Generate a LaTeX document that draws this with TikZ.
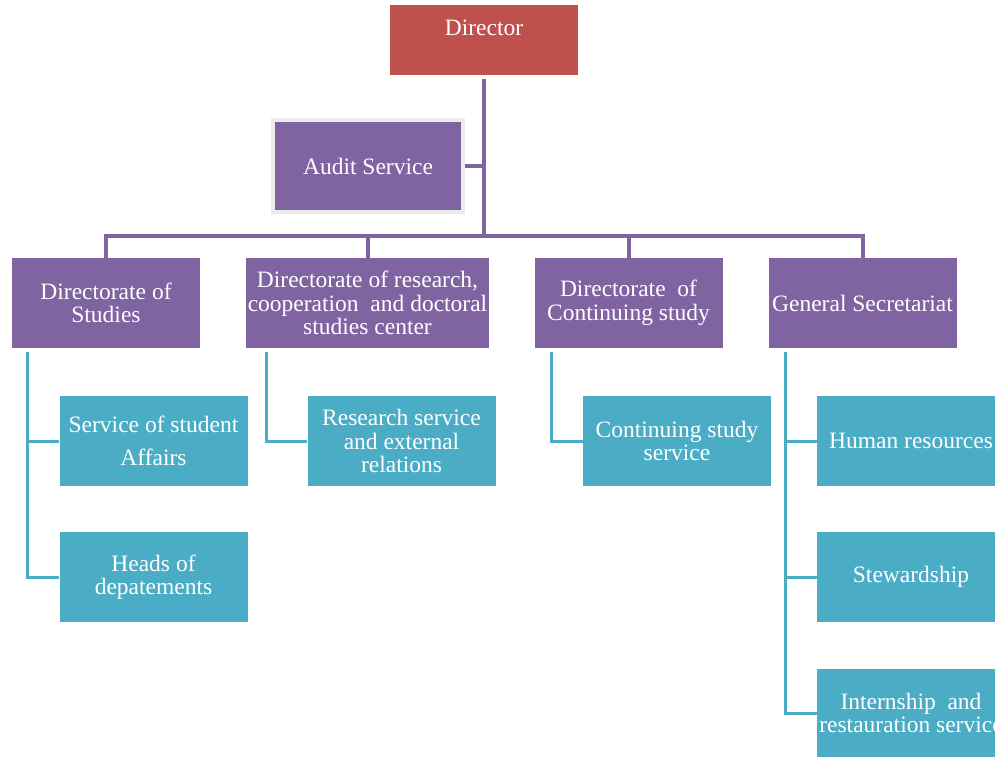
\documentclass[tikz,border=0pt]{standalone}
\usepackage{fontspec}
\setmainfont{Liberation Serif}
\definecolor{dirred}{HTML}{C0504D}
\definecolor{unitpurple}{HTML}{8064A2}
\definecolor{serviceteal}{HTML}{4BACC6}
\begin{document}
\begin{tikzpicture}[x=1pt, y=-1pt,
    box/.style={rectangle, text=white, align=center,
        font=\fontsize{23.5}{23.5}\selectfont, inner sep=2pt},
    head/.style={box, fill=dirred, minimum width=188pt,
        minimum height=70pt, text depth=24pt},
    unit/.style={box, fill=unitpurple, minimum width=188pt,
        minimum height=90pt},
    service/.style={box, fill=serviceteal, minimum width=188pt,
        minimum height=90pt},
    pline/.style={draw=unitpurple, line width=4pt},
    tline/.style={draw=serviceteal, line width=3pt}]
\path[clip, use as bounding box] (0,0) rectangle (995,757);
\fill[white] (0,0) rectangle (995,757);
% top
\node[head] (dir) at (484,40) {Director};
\node[unit, minimum width=190pt, minimum height=91pt,
    draw=black!8, line width=4pt] (audit) at (368,166) {Audit Service};
\coordinate (bus) at (484,236);
% directorates
\node[unit] (studies) at (106,303) {Directorate of\\Studies};
\node[unit, minimum width=243pt] (research) at (367.5,303)
    {Directorate of research,\\cooperation~ and doctoral\\studies center};
\node[unit] (continuing) at (628.5,303) {Directorate~ of\\Continuing study};
\node[unit] (secretariat) at (862.5,303) {General Secretariat};
% services
\node[service] (student) at (153.5,441) {Service of student\\[9pt]Affairs};
\node[service] (heads) at (153.5,577) {Heads of\\depatements};
\node[service] (rsrv) at (401.5,441) {Research service\\and external\\relations};
\node[service] (contsrv) at (677,441) {Continuing study\\service};
\node[service] (hr) at (911,441) {Human resources};
\node[service] (stew) at (911,577) {Stewardship};
\node[service, minimum height=88pt] (intern) at (911,713)
    {Internship~ and\\restauration service};
% director to directorates
\draw[pline, shorten <=4pt] (dir.south) -- (bus);
\draw[pline] (audit.east) -- (audit -| bus);
\draw[pline] (studies.north) |- (bus) -| (secretariat.north);
\draw[pline] (research.north) -- (research |- bus);
\draw[pline] (continuing.north) -- (continuing |- bus);
% directorates to services
\coordinate (t1) at ([xshift=16pt, yshift=-4pt]studies.south west);
\coordinate (t2) at ([xshift=21pt, yshift=-4pt]research.south west);
\coordinate (t3) at ([xshift=17pt, yshift=-4pt]continuing.south west);
\coordinate (t4) at ([xshift=17pt, yshift=-4pt]secretariat.south west);
\draw[tline] (t1) |- (heads.west);
\draw[tline] (student.west) -- (student -| t1);
\draw[tline] (t2) |- (rsrv.west);
\draw[tline] (t3) |- (contsrv.west);
\draw[tline] (t4) |- (intern.west);
\draw[tline] (hr.west) -- (hr -| t4);
\draw[tline] (stew.west) -- (stew -| t4);
\end{tikzpicture}
\end{document}
